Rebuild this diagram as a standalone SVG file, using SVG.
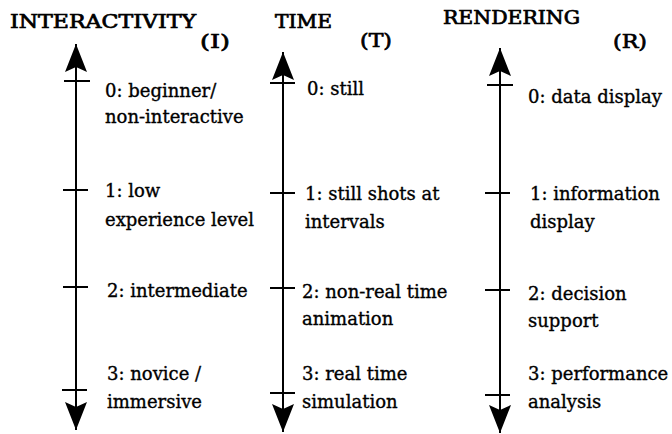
<svg xmlns="http://www.w3.org/2000/svg" width="672" height="434" viewBox="0 0 672 434">
<style>
text{font-family:"DejaVu Serif","Liberation Serif",serif;fill:#000}
.t{font-size:18px;stroke:#000;stroke-width:0.7}
.h{font-size:19px;stroke:#000;stroke-width:0.7}
.lb{font-size:18px;stroke:#000;stroke-width:0.35}
.ax{stroke:#000;stroke-width:2;fill:none}
.tk{stroke:#000;stroke-width:2}
</style>
<defs>
<marker id="ah" markerUnits="userSpaceOnUse" markerWidth="30" markerHeight="24" refX="28" refY="11" orient="auto-start-reverse" viewBox="0 0 30 24">
<path d="M28,11 L0,0 L5,11 L0,22 Z" fill="#000"/>
</marker>
</defs>
<g id="titles">
<text class="t" x="10" y="28" textLength="186" lengthAdjust="spacingAndGlyphs">INTERACTIVITY</text>
<text class="h" x="200" y="48" textLength="30" lengthAdjust="spacingAndGlyphs">(I)</text>
<text class="t" x="275" y="28" textLength="57" lengthAdjust="spacingAndGlyphs">TIME</text>
<text class="h" x="360" y="47" textLength="32" lengthAdjust="spacingAndGlyphs">(T)</text>
<text class="t" x="443" y="24" textLength="137" lengthAdjust="spacingAndGlyphs">RENDERING</text>
<text class="h" x="613" y="48" textLength="34" lengthAdjust="spacingAndGlyphs">(R)</text>
</g>
<g id="connectors">
<line class="ax" x1="76" y1="44" x2="76" y2="430" marker-start="url(#ah)" marker-end="url(#ah)"/>
<line class="ax" x1="283" y1="52" x2="283" y2="432" marker-start="url(#ah)" marker-end="url(#ah)"/>
<line class="ax" x1="500" y1="48" x2="500" y2="433" marker-start="url(#ah)" marker-end="url(#ah)"/>
<line class="tk" x1="64" y1="81" x2="90" y2="81"/>
<line class="tk" x1="63" y1="190" x2="88" y2="190"/>
<line class="tk" x1="63" y1="287" x2="88" y2="287"/>
<line class="tk" x1="62" y1="390" x2="87" y2="390"/>
<line class="tk" x1="270" y1="83" x2="295" y2="83"/>
<line class="tk" x1="270" y1="193" x2="295" y2="193"/>
<line class="tk" x1="270" y1="288" x2="295" y2="288"/>
<line class="tk" x1="270" y1="393" x2="295" y2="393"/>
<line class="tk" x1="487" y1="85" x2="513" y2="85"/>
<line class="tk" x1="485" y1="193" x2="510" y2="193"/>
<line class="tk" x1="485" y1="290" x2="510" y2="290"/>
<line class="tk" x1="485" y1="395" x2="510" y2="395"/>
</g>
<g id="i0"><text class="lb" x="105" y="97">0: beginner/</text><text class="lb" x="105" y="123">non-interactive</text></g>
<g id="i1"><text class="lb" x="105" y="197">1: low</text><text class="lb" x="105" y="226">experience level</text></g>
<g id="i2"><text class="lb" x="107" y="297">2: intermediate</text></g>
<g id="i3"><text class="lb" x="107" y="380">3: novice /</text><text class="lb" x="107" y="408">immersive</text></g>
<g id="t0"><text class="lb" x="307" y="95">0: still</text></g>
<g id="t1"><text class="lb" x="305" y="200">1: still shots at</text><text class="lb" x="305" y="228">intervals</text></g>
<g id="t2"><text class="lb" x="302" y="298">2: non-real time</text><text class="lb" x="302" y="325">animation</text></g>
<g id="t3"><text class="lb" x="302" y="380">3: real time</text><text class="lb" x="302" y="408">simulation</text></g>
<g id="r0"><text class="lb" x="528" y="103">0: data display</text></g>
<g id="r1"><text class="lb" x="530" y="200">1: information</text><text class="lb" x="530" y="228">display</text></g>
<g id="r2"><text class="lb" x="528" y="300">2: decision</text><text class="lb" x="528" y="327">support</text></g>
<g id="r3"><text class="lb" x="528" y="380">3: performance</text><text class="lb" x="528" y="408">analysis</text></g>
</svg>
